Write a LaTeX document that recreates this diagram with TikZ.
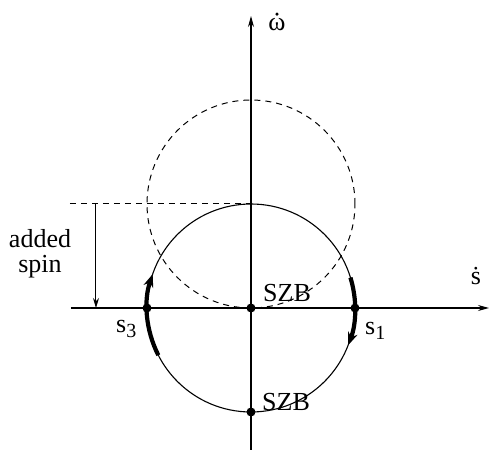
\documentclass[tikz,border=0pt]{standalone}
\usepackage{fontspec}
\setmainfont{Liberation Serif}
\usetikzlibrary{arrows.meta}
\begin{document}
\begin{tikzpicture}[x=1pt,y=1pt,
  axisline/.style={line width=1.2pt,-{Stealth[length=11pt,width=6pt]}},
  circline/.style={line width=1.1pt},
  dashline/.style={line width=1pt,dash pattern=on 6pt off 5pt},
  flowarrow/.style={line width=4.2pt,-{Stealth[length=13pt,width=10pt]}},
  spinarrow/.style={line width=1pt,-{Stealth[length=10pt,width=6pt]}},
  dotnode/.style={circle,fill,inner sep=0pt,minimum size=9pt},
  lbl/.style={font=\fontsize{26}{25}\selectfont,inner sep=0pt}]
\useasboundingbox (-251,-147) rectangle (240,308);
% coordinates
\coordinate (xl) at (-180,0);
\coordinate (xr) at (238,0);
\coordinate (yb) at (0,-142);
\coordinate (yt) at (0,292);
\coordinate (dl) at (-181,104);
\coordinate (dr) at (0,104);
\coordinate (as1) at (-155,104);
\coordinate (as2) at (-155,0);
% circles
\draw[dashline] (0,104) circle[radius=104];
\draw[circline] (0,0) circle[radius=104];
% axes
\draw[axisline] (xl) -- (xr);
\draw[axisline] (yb) -- (yt);
% added spin
\draw[dashline] (dl) -- (dr);
\draw[spinarrow] (as1) -- (as2);
% thick arrows
\draw[flowarrow] (207:104) arc[start angle=207,end angle=161,radius=104];
\draw[flowarrow] (17:104) arc[start angle=17,end angle=-21,radius=104];
% dots
\node[dotnode] (o) at (0,0) {};
\node[dotnode] (bot) at (0,-104) {};
\node[dotnode] (p3) at (-104,0) {};
\node[dotnode] (p1) at (104,0) {};
% labels
\node[lbl,align=center] (added) at (-211,54) {added\\spin};
\node[lbl,anchor=west] (szbt) at (12,14.5) {SZB};
\node[lbl,anchor=west] (szbb) at (11,-94) {SZB};
\node[lbl,anchor=base west] (s3) at (-135,-25) {s\raisebox{-5pt}{\fontsize{20}{20}\selectfont 3}};
\node[lbl,anchor=base west] (s1) at (114,-27) {s\raisebox{-5pt}{\fontsize{20}{20}\selectfont 1}};
\node[lbl,anchor=base] (om) at (26,277) {ω};
\fill ([yshift=4.5pt]om.north) circle[radius=1.7pt];
\node[lbl,anchor=base] (sd) at (225,23) {ṡ};
\end{tikzpicture}
\end{document}
